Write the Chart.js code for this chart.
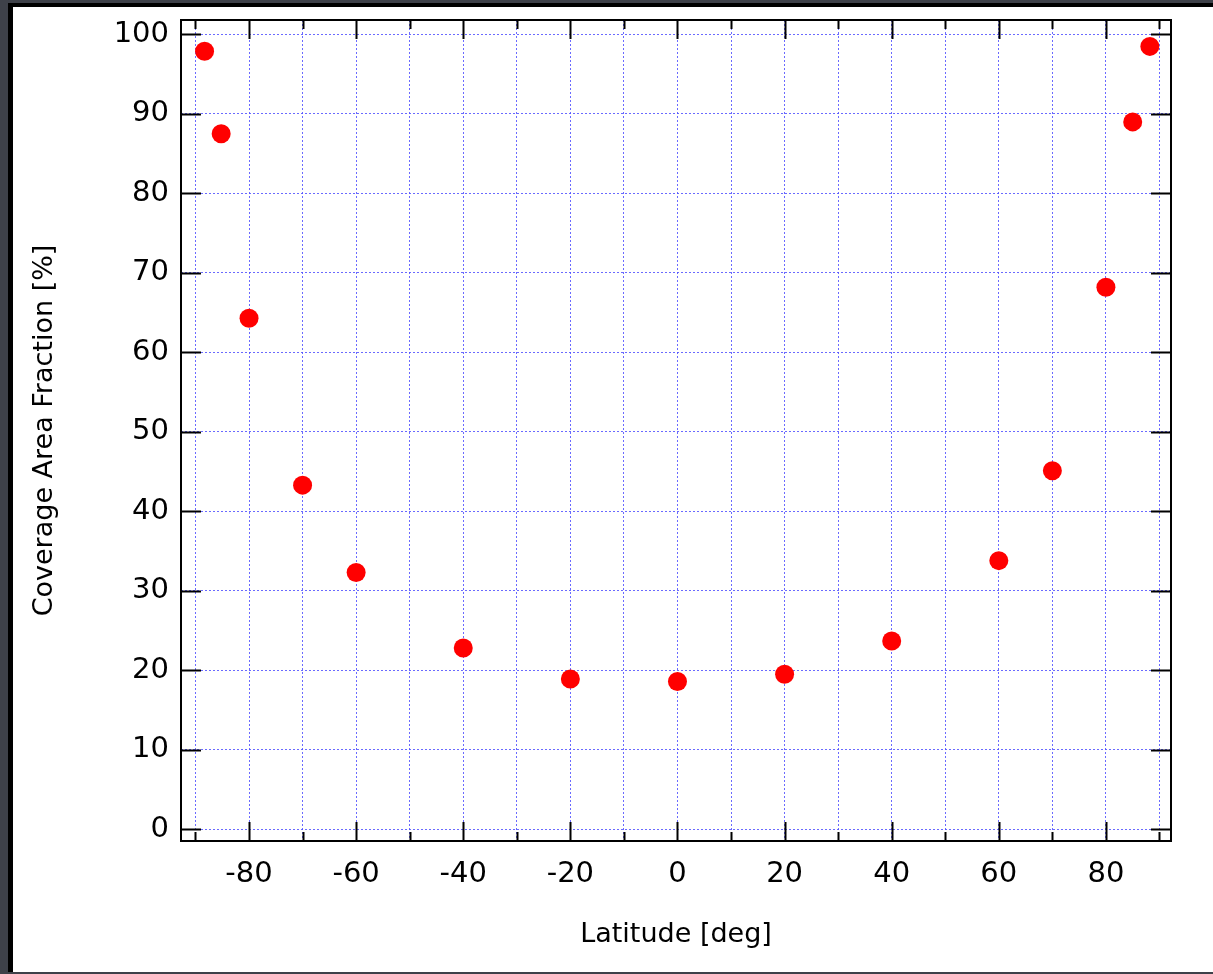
<!DOCTYPE html>
<html>
<head>
<meta charset="utf-8">
<script src="https://cdn.jsdelivr.net/npm/chart.js@4.4.1/dist/chart.umd.min.js"></script>
<style>
  html, body { margin: 0; padding: 0; width: 1213px; height: 974px; overflow: hidden; background: #3e4149; }
  #panel { position: absolute; left: 8px; top: 3px; width: 1200px; height: 965px; background: #ffffff;
           border-left: 5px solid #000; border-top: 4px solid #000; }
  #c { position: absolute; left: 0; top: 0; }
</style>
</head>
<body>
<div id="panel"></div>
<canvas id="c" width="1213" height="974"></canvas>
<script>
// ---- data ----
const latitudes = [-88.3, -85.2, -80, -70, -60, -40, -20, 0, 20, 40, 60, 70, 80, 85, 88.2];
const coverage  = [97.9, 87.5, 64.3, 43.3, 32.3, 22.8, 18.9, 18.6, 19.5, 23.7, 33.8, 45.1, 68.2, 89.0, 98.5];
const xLabelValues = [-80, -60, -40, -20, 0, 20, 40, 60, 80];
const yLabelValues = [0, 10, 20, 30, 40, 50, 60, 70, 80, 90, 100];
const xTitle = 'Latitude [deg]';
const yTitle = 'Coverage Area Fraction [%]';

const points = latitudes.map((x, i) => ({x: x, y: coverage[i]}));

const FONT = 'DejaVu Sans';

const framePlugin = {
  id: 'frame',
  afterDatasetsDraw(chart) {
    const {ctx, chartArea: a, scales: {x, y}} = chart;
    ctx.save();
    ctx.strokeStyle = '#000';
    ctx.lineWidth = 2;
    ctx.lineCap = 'butt';
    ctx.beginPath();
    x.ticks.forEach(t => {
      const px = Math.round(x.getPixelForValue(t.value)) + 0.5;
      const len = (t.value % 20 === 0) ? 19 : 9;
      ctx.moveTo(px, a.bottom); ctx.lineTo(px, a.bottom - len);
      ctx.moveTo(px, a.top); ctx.lineTo(px, a.top + len);
    });
    y.ticks.forEach(t => {
      const py = Math.round(y.getPixelForValue(t.value)) + 0.5;
      ctx.moveTo(a.left, py); ctx.lineTo(a.left + 20, py);
      ctx.moveTo(a.right, py); ctx.lineTo(a.right - 20, py);
    });
    ctx.stroke();
    ctx.strokeRect(a.left, a.top, a.right - a.left, a.bottom - a.top);
    ctx.restore();
  }
};

function noPad(s) { s.paddingTop = 0; s.paddingBottom = 0; s.paddingLeft = 0; s.paddingRight = 0; }

new Chart(document.getElementById('c'), {
  type: 'scatter',
  data: {
    datasets: [{
      data: points,
      backgroundColor: '#ff0000',
      borderColor: '#ff0000',
      borderWidth: 0,
      pointRadius: 9.5,
      pointHoverRadius: 9.5
    }]
  },
  options: {
    responsive: false,
    animation: false,
    devicePixelRatio: 1,
    layout: { padding: { left: 0, top: 20, right: 42, bottom: 0 } },
    plugins: { legend: { display: false }, tooltip: { enabled: false } },
    events: [],
    scales: {
      x: {
        type: 'linear',
        min: -92.7,
        max: 92.15,
        afterFit(s) { s.height = 133; noPad(s); },
        border: { display: false, dash: [2, 2] },
        grid: { color: 'rgba(80,80,255,0.85)', lineWidth: 1, drawTicks: false },
        ticks: {
          stepSize: 10,
          includeBounds: false,
          autoSkip: false,
          maxRotation: 0,
          padding: 16,
          color: '#000',
          font: { family: FONT, size: 29 },
          callback: (v) => xLabelValues.includes(v) ? String(v) : ''
        },
        title: {
          display: true, text: xTitle, color: '#000',
          font: { family: FONT, size: 27 },
          padding: { top: 0, bottom: 23 }
        }
      },
      y: {
        type: 'linear',
        min: -1.47,
        max: 101.82,
        afterFit(s) { s.width = 181; noPad(s); },
        border: { display: false, dash: [2, 2] },
        grid: { color: 'rgba(80,80,255,0.85)', lineWidth: 1, drawTicks: false },
        ticks: {
          stepSize: 10,
          includeBounds: false,
          padding: 12,
          color: '#000',
          font: { family: FONT, size: 29 },
          callback: (v) => yLabelValues.includes(v) ? String(v) : ''
        },
        title: {
          display: true, text: yTitle, color: '#000',
          font: { family: FONT, size: 27 },
          padding: { top: 29, bottom: 0 }
        }
      }
    }
  },
  plugins: [framePlugin]
});
</script>
</body>
</html>
